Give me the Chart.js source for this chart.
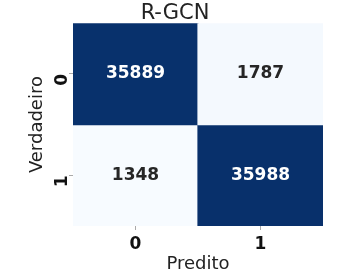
<!DOCTYPE html>
<html>
<head>
<meta charset="utf-8">
<script src="https://cdn.jsdelivr.net/npm/chart.js@4"></script>
<style>
  html, body { margin: 0; padding: 0; background: #fff; }
  #wrap { width: 345px; height: 280px; }
</style>
</head>
<body>
<div id="wrap"><canvas id="cm"></canvas></div>
<script>
// confusion matrix data
const classes = ['0', '1'];
const rowTrue0 = [35889, 1787];
const rowTrue1 = [1348, 35988];
const rows = [rowTrue0, rowTrue1];

// matplotlib "Blues" colormap stops
const blues = ['#f7fbff', '#deebf7', '#c6dbef', '#9ecae1', '#6baed6', '#4292c6', '#2171b5', '#08519c', '#08306b'];

const allVals = rows.flat();
const vMin = Math.min(...allVals);
const vMax = Math.max(...allVals);

function hexToRgb(h) {
  return [parseInt(h.slice(1, 3), 16), parseInt(h.slice(3, 5), 16), parseInt(h.slice(5, 7), 16)];
}
function bluesColor(v) {
  let t = (v - vMin) / (vMax - vMin);
  t = Math.max(0, Math.min(1, t));
  const pos = t * (blues.length - 1);
  const i = Math.min(Math.floor(pos), blues.length - 2);
  const f = pos - i;
  const a = hexToRgb(blues[i]), b = hexToRgb(blues[i + 1]);
  const c = a.map((x, k) => Math.round(x + (b[k] - x) * f));
  return 'rgb(' + c.join(',') + ')';
}

const datasets = rows.map((row, r) => ({
  label: 'Verdadeiro ' + classes[r],
  data: row.map(() => [r, r + 1]),
  values: row,
  backgroundColor: row.map(bluesColor),
  borderWidth: 0,
  inflateAmount: 0.6,
  grouped: false,
  barPercentage: 1,
  categoryPercentage: 1
}));

// write the count in the middle of each cell
const cellText = {
  id: 'cellText',
  afterDatasetsDraw(chart) {
    const ctx = chart.ctx;
    ctx.save();
    ctx.font = 'bold 17px "DejaVu Sans"';
    ctx.textAlign = 'center';
    ctx.textBaseline = 'middle';
    chart.data.datasets.forEach((ds, di) => {
      chart.getDatasetMeta(di).data.forEach((bar, j) => {
        const v = ds.values[j];
        const t = (v - vMin) / (vMax - vMin);
        ctx.fillStyle = t > 0.5 ? '#ffffff' : '#262626';
        ctx.fillText(String(v), bar.x, (bar.y + bar.base) / 2);
      });
    });
    ctx.restore();
  }
};

new Chart(document.getElementById('cm'), {
  type: 'bar',
  data: { labels: classes, datasets: datasets },
  plugins: [cellText],
  options: {
    responsive: true,
    maintainAspectRatio: false,
    animation: false,
    layout: { padding: { left: 27, right: 22, top: 1, bottom: 5 } },
    plugins: {
      legend: { display: false },
      tooltip: { enabled: false },
      title: {
        display: true,
        text: 'R-GCN',
        color: '#222',
        font: { family: 'DejaVu Sans', size: 21, weight: 'normal' },
        padding: { top: 0, bottom: -3 }
      }
    },
    scales: {
      x: {
        type: 'category',
        offset: true,
        grid: { display: true, offset: false, drawOnChartArea: false, drawTicks: true, tickLength: 4, color: '#aaa' },
        border: { display: false },
        ticks: { color: '#111', padding: 4, font: { family: 'DejaVu Sans', size: 17, weight: 'bold' } },
        title: {
          display: true,
          text: 'Predito',
          color: '#222',
          font: { family: 'DejaVu Sans', size: 18 },
          padding: { top: -5, bottom: 0 }
        }
      },
      y: {
        type: 'linear',
        min: 0,
        max: 2,
        reverse: true,
        afterBuildTicks(axis) {
          axis.ticks = classes.map((c, i) => ({ value: i + 0.5 }));
        },
        grid: { display: true, drawOnChartArea: false, drawTicks: true, tickLength: 4, color: '#aaa' },
        border: { display: false },
        ticks: {
          color: '#111',
          padding: 6,
          maxRotation: 90,
          minRotation: 90,
          font: { family: 'DejaVu Sans', size: 17, weight: 'bold' },
          callback: (v) => classes[Math.floor(v)]
        },
        title: {
          display: true,
          text: 'Verdadeiro',
          color: '#222',
          font: { family: 'DejaVu Sans', size: 18 },
          padding: { top: 0, bottom: -12 }
        }
      }
    }
  }
});
</script>
</body>
</html>
